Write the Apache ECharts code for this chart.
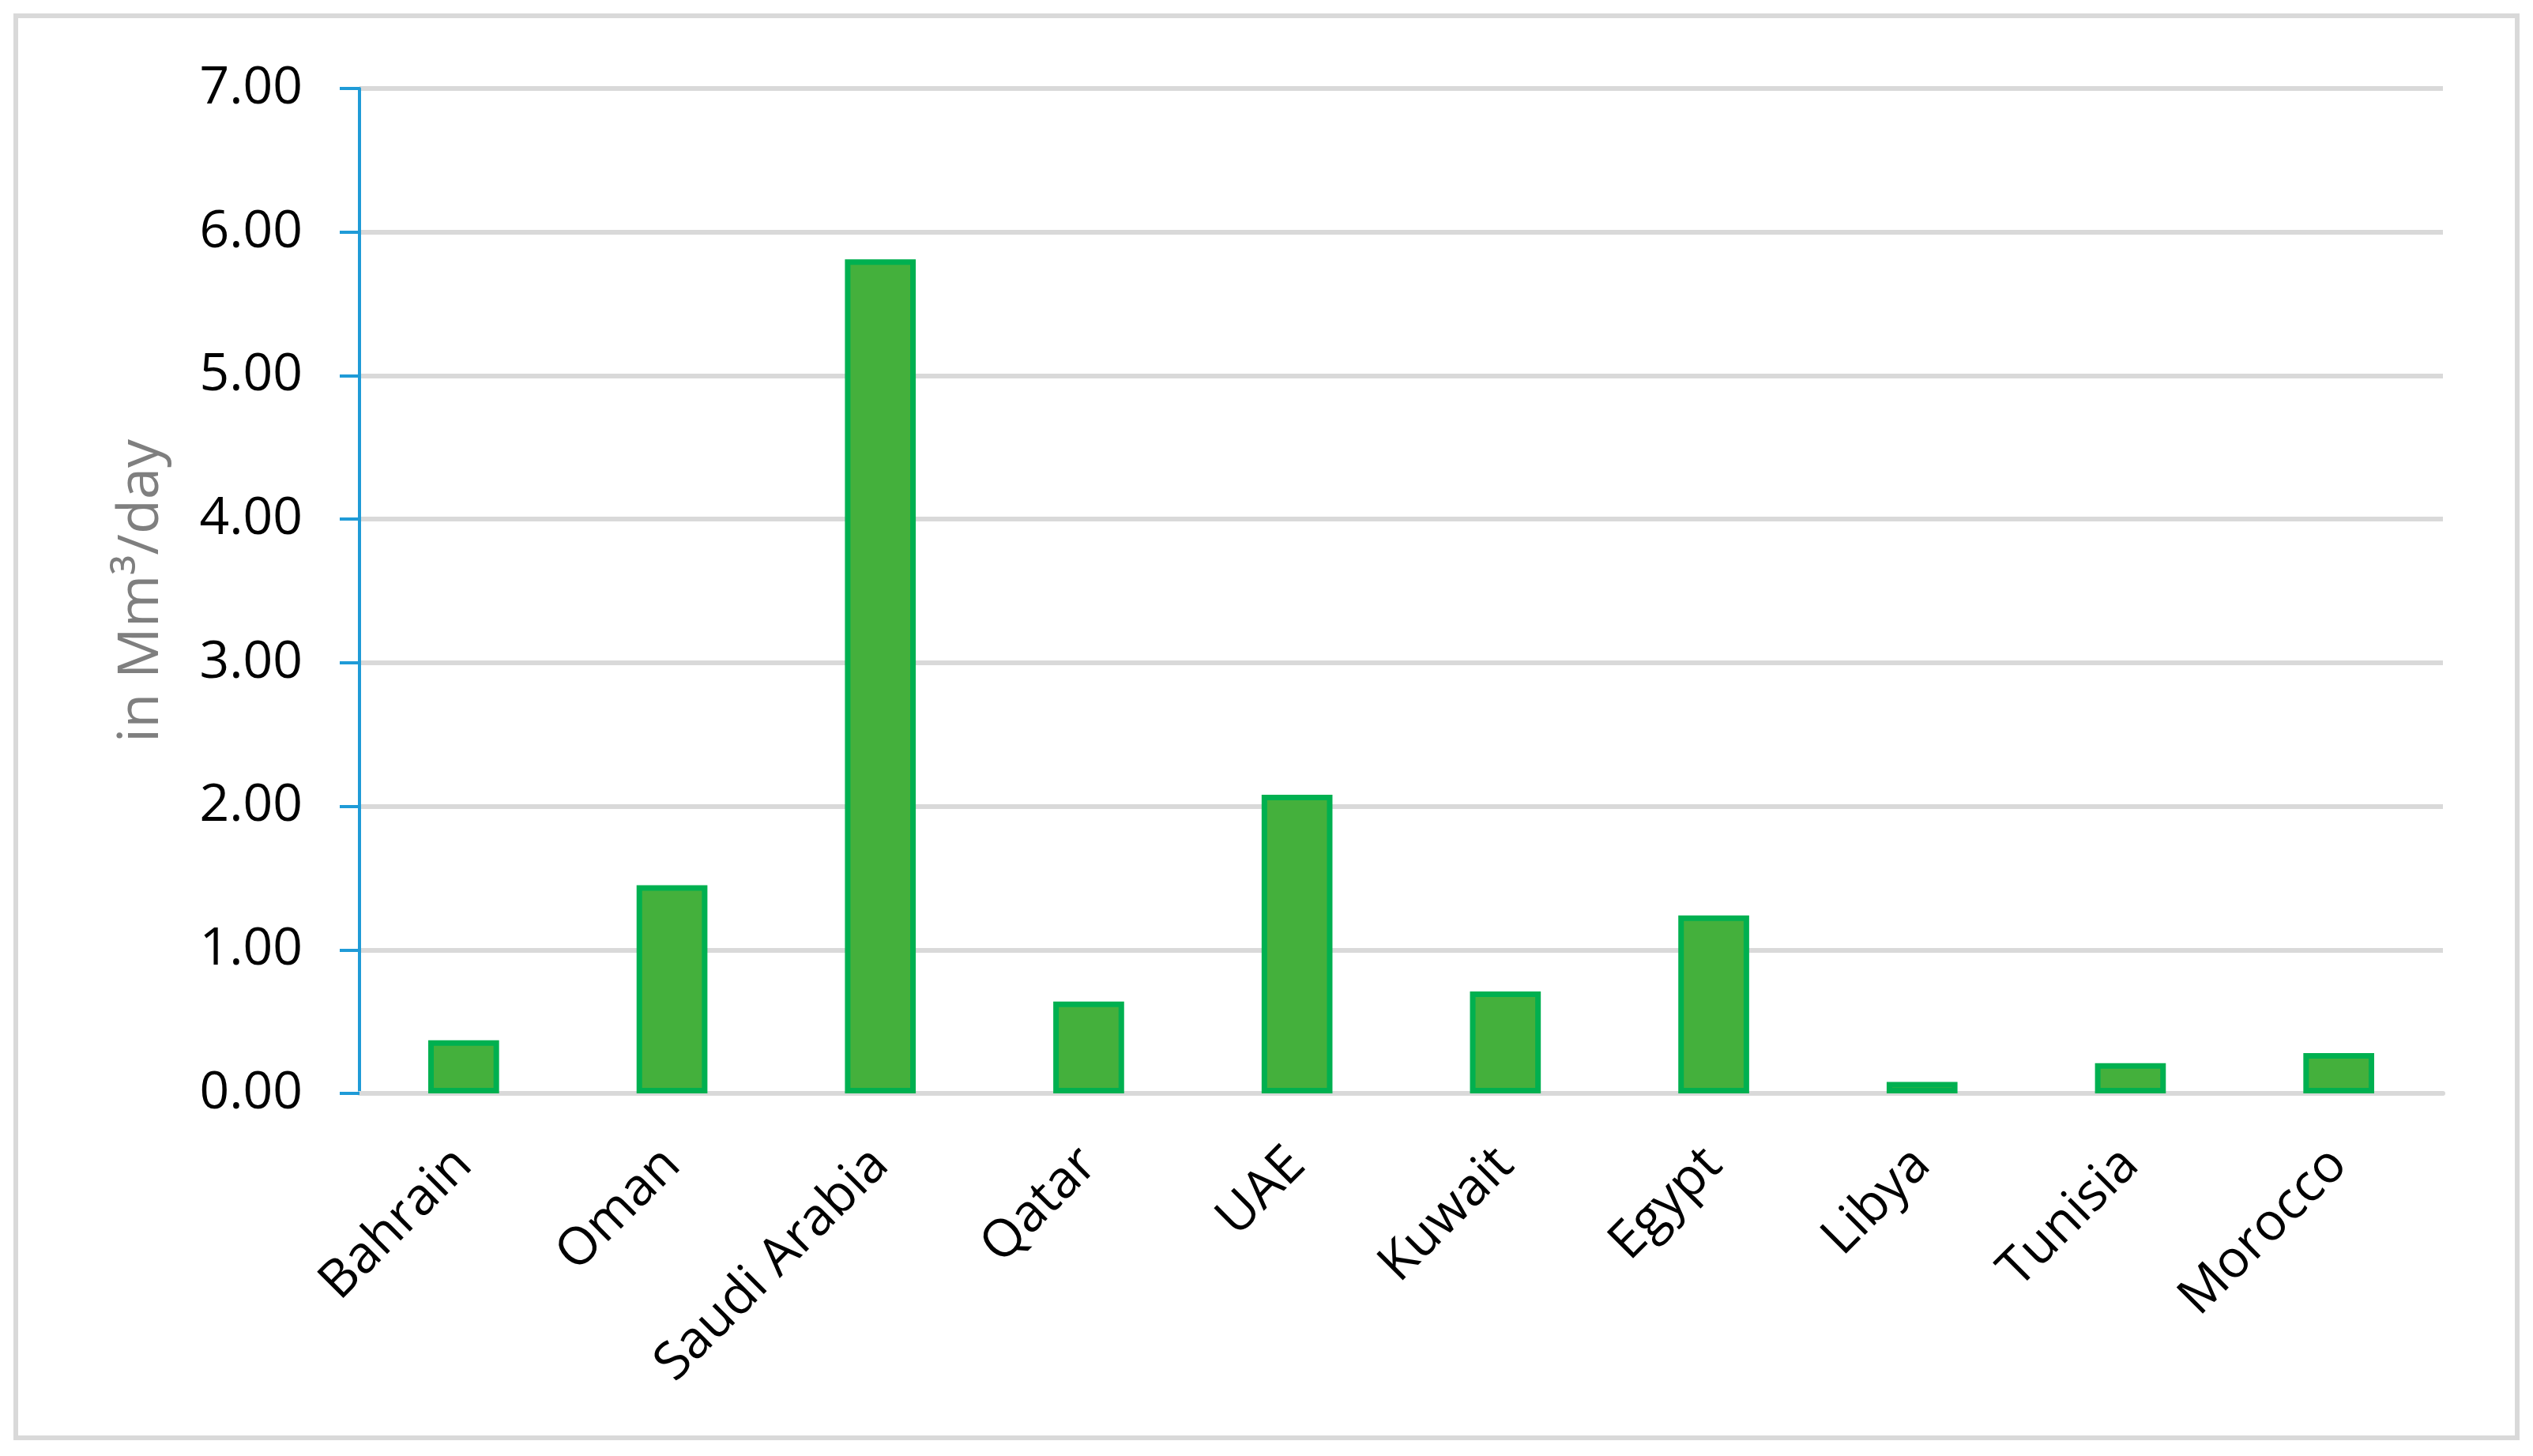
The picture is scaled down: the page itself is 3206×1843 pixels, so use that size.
<!DOCTYPE html>
<html>
<head>
<meta charset="utf-8">
<script src="https://cdn.jsdelivr.net/npm/echarts@6/dist/echarts.min.js"></script>
<style>
  html, body { margin: 0; padding: 0; background: #fff; }
  #chart { width: 3206px; height: 1843px; }
</style>
</head>
<body>
<div id="chart"></div>
<script>
// data
const countries = ['Bahrain', 'Oman', 'Saudi Arabia', 'Qatar', 'UAE', 'Kuwait', 'Egypt', 'Libya', 'Tunisia', 'Morocco']
const capacity = [0.37, 1.45, 5.81, 0.64, 2.08, 0.71, 1.24, 0.08, 0.21, 0.28]
const yTicks = [0, 1, 2, 3, 4, 5, 6, 7]
const yName = 'in Mm³/day'

const font = 'Open Sans'
const chart = echarts.init(document.getElementById('chart'))

chart.setOption({
  animation: false,
  backgroundColor: '#fff',
  graphic: [
    {
      type: 'rect',
      shape: { x: 20, y: 20, width: 3166, height: 1800 },
      style: { fill: 'none', stroke: '#d9d9d9', lineWidth: 6 },
      z: -1,
    },
  ],
  grid: { left: 455, right: 114, top: 112, bottom: 459 },
  xAxis: {
    type: 'category',
    data: countries,
    axisLine: { show: true, lineStyle: { color: '#d9d9d9', width: 6 } },
    axisTick: { show: false },
    axisLabel: {
      rotate: 45,
      margin: 80,
      interval: 0,
      color: '#000',
      fontFamily: font,
      fontSize: 66,
    },
  },
  yAxis: {
    type: 'value',
    min: yTicks[0],
    max: yTicks[yTicks.length - 1],
    interval: 1,
    name: yName,
    nameLocation: 'middle',
    nameRotate: 90,
    nameGap: 240,
    nameTextStyle: { color: '#7f7f7f', fontFamily: font, fontSize: 72 },
    axisLine: { show: true, lineStyle: { color: '#1f9bd7', width: 4 } },
    axisTick: { show: true, length: 25, lineStyle: { color: '#1f9bd7', width: 4 } },
    axisLabel: {
      margin: 72,
      color: '#000',
      fontFamily: font,
      fontSize: 66,
      formatter: (v) => v.toFixed(2),
    },
    splitLine: { show: true, lineStyle: { color: '#d9d9d9', width: 6 } },
  },
  series: [
    {
      type: 'bar',
      data: capacity,
      barWidth: '34%',
      itemStyle: { color: '#44b03c', borderColor: '#00b050', borderWidth: 7 },
    },
  ],
})
</script>
</body>
</html>
